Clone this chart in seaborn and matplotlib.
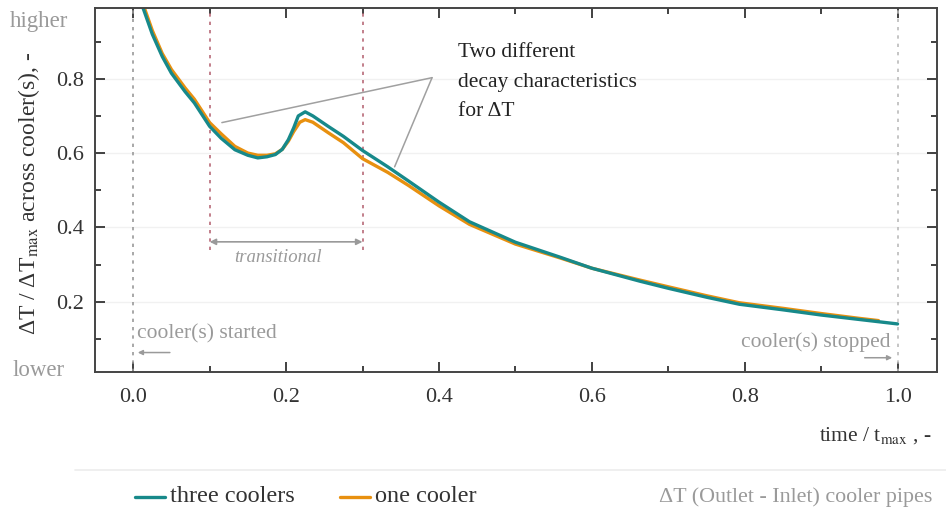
import matplotlib
matplotlib.use("Agg")
import matplotlib.pyplot as plt
import seaborn as sns
import pandas as pd

# ---- data ----
t_three = [0.00, 0.013, 0.025, 0.038, 0.05, 0.068, 0.08, 0.10, 0.115, 0.133, 0.15, 0.163,
           0.175, 0.186, 0.195, 0.203, 0.21, 0.216, 0.225, 0.235, 0.255, 0.275, 0.30,
           0.333, 0.36, 0.40, 0.44, 0.50, 0.558, 0.60, 0.663, 0.70, 0.75, 0.793, 0.85,
           0.90, 0.95, 1.00]
v_three = [1.06, 0.99, 0.92, 0.86, 0.815, 0.765, 0.735, 0.672, 0.64, 0.609, 0.594, 0.587,
           0.59, 0.596, 0.61, 0.636, 0.668, 0.70, 0.711, 0.70, 0.672, 0.645, 0.607,
           0.563, 0.525, 0.468, 0.415, 0.36, 0.32, 0.29, 0.255, 0.236, 0.212, 0.193, 0.178,
           0.164, 0.152, 0.14]

t_one = [0.00, 0.013, 0.025, 0.038, 0.05, 0.068, 0.08, 0.10, 0.115, 0.133, 0.15, 0.163,
         0.175, 0.186, 0.195, 0.203, 0.21, 0.218, 0.225, 0.235, 0.255, 0.275, 0.30,
         0.333, 0.36, 0.40, 0.44, 0.50, 0.558, 0.60, 0.663, 0.70, 0.75, 0.793, 0.85,
         0.90, 0.95, 0.975]
v_one = [1.07, 1.00, 0.93, 0.868, 0.825, 0.775, 0.745, 0.682, 0.652, 0.618, 0.60, 0.594,
         0.594, 0.598, 0.61, 0.632, 0.658, 0.683, 0.69, 0.683, 0.655, 0.628, 0.585,
         0.548, 0.513, 0.458, 0.408, 0.355, 0.318, 0.29, 0.258, 0.24, 0.216, 0.197, 0.182,
         0.168, 0.155, 0.149]

series_names = ["three coolers", "one cooler"]
x_ticks = [0.0, 0.2, 0.4, 0.6, 0.8, 1.0]
y_ticks = [0.2, 0.4, 0.6, 0.8]

df = pd.concat([
    pd.DataFrame({"t": t_three, "v": v_three, "series": series_names[0]}),
    pd.DataFrame({"t": t_one, "v": v_one, "series": series_names[1]}),
])

sns.set_theme(style="white")
plt.rcParams["font.family"] = ["Liberation Serif", "DejaVu Serif"]
plt.rcParams["mathtext.fontset"] = "stix"

TEAL = "#17898a"
ORANGE = "#e8900f"
GRAY = "#9a9a9a"
DARK = "#333333"

fig = plt.figure(figsize=(9.46, 5.12), dpi=100)
ax = fig.add_axes([0.1004, 0.273, 0.8896, 0.711])

sns.lineplot(data=df, x="t", y="v", hue="series", hue_order=series_names[::-1],
             palette={series_names[0]: TEAL, series_names[1]: ORANGE},
             linewidth=2.4, ax=ax, legend=False, sort=False, estimator=None)

ax.set_xlim(-0.05, 1.051)
ax.set_ylim(0.01, 0.99)
ax.set_xticks(x_ticks)
ax.set_xticklabels([f"{v:.1f}" for v in x_ticks])
ax.set_yticks(y_ticks)
ax.set_yticklabels([f"{v:.1f}" for v in y_ticks])
ax.set_xticks([0.1, 0.3, 0.5, 0.7, 0.9], minor=True)
ax.set_yticks([0.1, 0.3, 0.5, 0.7, 0.9], minor=True)
ax.tick_params(which="both", direction="in", top=True, right=True, bottom=True, left=True,
               colors=DARK, labelsize=16, labelcolor=DARK, width=1.3)
ax.tick_params(which="major", length=7)
ax.tick_params(which="minor", length=4)
ax.tick_params(axis="x", pad=11)
ax.tick_params(axis="y", pad=8)
for s in ax.spines.values():
    s.set_color("#444444")
    s.set_linewidth(1.4)
ax.set_xlabel("")
ax.set_ylabel("")
for yv in y_ticks:
    ax.axhline(yv, color="#f1f1f1", lw=1, zorder=0)

# vertical dotted markers
ax.axvline(0.0, color=GRAY, ls=(0, (2, 3)), lw=1.2, zorder=1)
ax.axvline(1.0, color="#bbbbbb", ls=(0, (2, 3)), lw=1.2, zorder=1)
for xv in (0.1, 0.3):
    ax.plot([xv, xv], [0.34, 0.99], color="#b86a78", ls=(0, (2, 3)), lw=1.2, zorder=1)

# transitional arrow
ax.annotate("", xy=(0.3, 0.361), xytext=(0.1, 0.361),
            arrowprops=dict(arrowstyle="<|-|>", color=GRAY, lw=1.2, mutation_scale=9,
                            shrinkA=0, shrinkB=0))
ax.text(0.19, 0.318, "transitional", color=GRAY, fontsize=13.5, style="italic",
        ha="center", va="center")

# started / stopped
ax.text(0.005, 0.112, "cooler(s) started", color=GRAY, fontsize=15.5, ha="left", va="center")
ax.annotate("", xy=(0.006, 0.063), xytext=(0.048, 0.063),
            arrowprops=dict(arrowstyle="-|>", color=GRAY, lw=1.1, mutation_scale=7,
                            shrinkA=0, shrinkB=0))
ax.text(0.991, 0.092, "cooler(s) stopped", color=GRAY, fontsize=15.5, ha="right", va="center")
ax.annotate("", xy=(0.993, 0.049), xytext=(0.957, 0.049),
            arrowprops=dict(arrowstyle="-|>", color=GRAY, lw=1.1, mutation_scale=7,
                            shrinkA=0, shrinkB=0))

# two decay characteristics annotation
apex = (0.391, 0.803)
ax.plot([apex[0], 0.116], [apex[1], 0.682], color="#a0a0a0", lw=1.1, zorder=4)
ax.plot([apex[0], 0.342], [apex[1], 0.563], color="#a0a0a0", lw=1.1, zorder=4)
ax.text(0.425, 0.895, "Two different\ndecay characteristics\nfor ΔT", color="#222222",
        fontsize=15.5, ha="left", va="top", linespacing=1.75)

# higher / lower
fig.text(39 / 946, 1 - 21 / 512, "higher", color=GRAY, fontsize=16.5, ha="center", va="center")
fig.text(39 / 946, 1 - 371 / 512, "lower", color=GRAY, fontsize=16.5, ha="center", va="center")

# axis labels
fig.text(29 / 946, 1 - 193 / 512, r"ΔT / ΔT$_{\rm max}$ across cooler(s), -", color=DARK,
         fontsize=17, rotation=90, ha="center", va="center")
fig.text(932 / 946, 1 - 436 / 512, r"time / t$_{\rm max}$ , -", color=DARK,
         fontsize=15.5, ha="right", va="center")

# separator
fig.add_artist(plt.Line2D([75 / 946, 1.0], [1 - 470 / 512, 1 - 470 / 512],
                          color="#ececec", lw=1.2))

# legend row
ly = 1 - 497 / 512
fig.add_artist(plt.Line2D([135 / 946, 165 / 946], [ly, ly], color=TEAL, lw=2.4))
fig.text(170 / 946, ly, series_names[0], color=DARK, fontsize=17.5, ha="left", va="center")
fig.add_artist(plt.Line2D([340 / 946, 370 / 946], [ly, ly], color=ORANGE, lw=2.4))
fig.text(375 / 946, ly, series_names[1], color=DARK, fontsize=17.5, ha="left", va="center")
fig.text(932 / 946, ly, "ΔT (Outlet - Inlet) cooler pipes", color=GRAY, fontsize=15.8,
         ha="right", va="center")

fig.savefig("out.png", dpi=100)
